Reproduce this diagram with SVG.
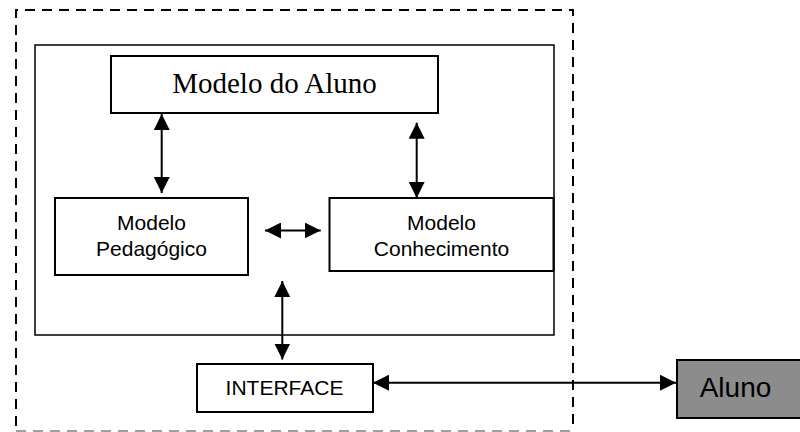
<svg xmlns="http://www.w3.org/2000/svg" width="800" height="432" viewBox="0 0 800 432">
<style>
.box{fill:#fff;stroke:#000;stroke-width:2}
.sans{font-family:"Liberation Sans",Arial,sans-serif;font-size:21px;fill:#000;text-anchor:middle}
.serif{font-family:"Liberation Serif","Times New Roman",serif;font-size:29px;fill:#000;text-anchor:middle}
.conn{stroke:#000;stroke-width:2;fill:none;marker-start:url(#ah);marker-end:url(#ah)}
</style>
<defs>
<marker id="ah" markerUnits="userSpaceOnUse" markerWidth="16" markerHeight="16" refX="14" refY="7" orient="auto-start-reverse" viewBox="0 0 14 14">
<path d="M0,0 L14,7 L0,14 z" fill="#000"/>
</marker>
</defs>
<rect width="800" height="432" fill="#fff"/>
<g id="boundary">
<path d="M16,426 V10 H573 V431" fill="none" stroke="#000" stroke-width="2" stroke-dasharray="10 7"/>
<path d="M16,431 H570" fill="none" stroke="#808080" stroke-width="1.5" stroke-dasharray="10 7"/>
</g>
<g id="container">
<rect x="35" y="45" width="519" height="290" fill="none" stroke="#000" stroke-width="1.5"/>
</g>
<g id="modelo-aluno">
<rect class="box" x="111" y="56" width="327" height="57"/>
<text class="serif" x="274.5" y="93">Modelo do Aluno</text>
</g>
<g id="modelo-pedagogico">
<rect class="box" x="55" y="198" width="193" height="77"/>
<text class="sans" x="151.5" y="230">Modelo</text>
<text class="sans" x="151.5" y="256">Pedagógico</text>
</g>
<g id="modelo-conhecimento">
<rect class="box" x="329.5" y="198" width="224" height="73"/>
<text class="sans" x="441.5" y="230">Modelo</text>
<text class="sans" x="441.5" y="256">Conhecimento</text>
</g>
<g id="interface">
<rect class="box" x="197" y="364" width="176" height="48"/>
<text class="sans" x="284.5" y="395">INTERFACE</text>
</g>
<g id="aluno">
<rect x="677" y="360" width="130" height="58" fill="#8c8c8c" stroke="#000" stroke-width="2"/>
<text class="sans" x="735.5" y="397" style="font-size:28px">Aluno</text>
</g>
<g id="connectors">
<line class="conn" x1="161.7" y1="114" x2="161.7" y2="193"/>
<line class="conn" x1="416.7" y1="122.7" x2="416.7" y2="198"/>
<line class="conn" x1="265" y1="230.5" x2="320.7" y2="230.5"/>
<line class="conn" x1="282.3" y1="281" x2="282.3" y2="359.5"/>
<line class="conn" x1="373" y1="382.7" x2="676" y2="382.7"/>
</g>
</svg>
